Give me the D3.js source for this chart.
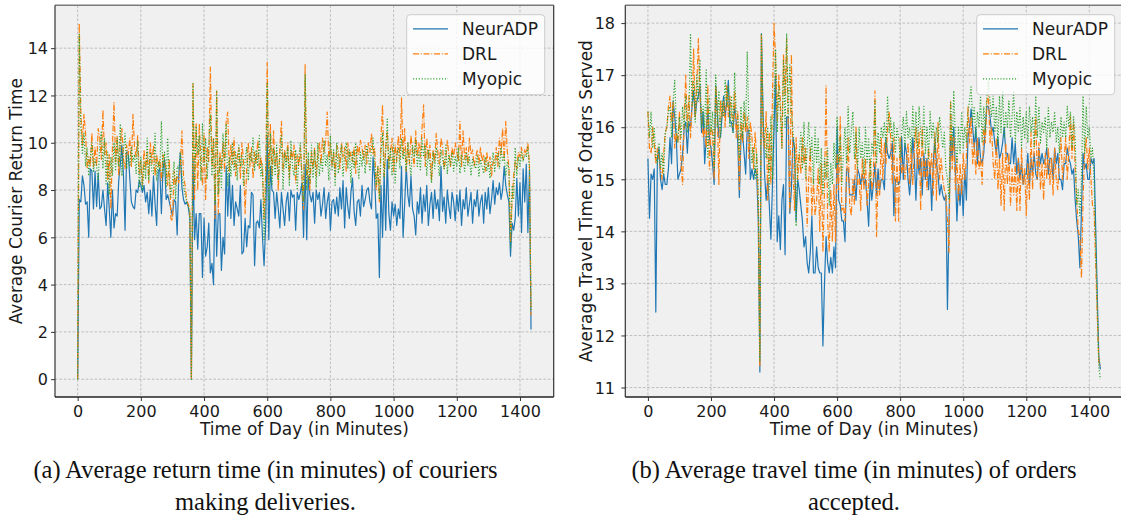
<!DOCTYPE html>
<html>
<head>
<meta charset="utf-8">
<script src="https://cdn.jsdelivr.net/npm/d3@7/dist/d3.min.js"></script>
<style>
  html, body { margin: 0; padding: 0; background: #ffffff; }
  svg { display: block; }
</style>
</head>
<body>
<svg id="chart" width="1121" height="521"></svg>
<script>
// ---------------- DATA (one value every 5 minutes, 0 .. 1435) ----------------
const stepMinutes = 5;
const seriesNames = ["NeurADP", "DRL", "Myopic"];
const xTicks = [0, 200, 400, 600, 800, 1000, 1200, 1400];
const yTicksA = [0, 2, 4, 6, 8, 10, 12, 14];
const yTicksB = [11, 12, 13, 14, 15, 16, 17, 18];
const xLabel = "Time of Day (in Minutes)";
const yLabelA = "Average Courier Return Time";
const yLabelB = "Average Travel Time of Orders Served";
const captionA = ["(a) Average return time (in minutes) of couriers", "making deliveries."];
const captionB = ["(b) Average travel time (in minutes) of orders", "accepted."];

// (a) Average courier return time
const returnNeurADP = [
  0, 7.6, 7.5, 8.6, 8.2, 7.4, 7.5, 6.0, 8.9, 8.8, 7.2, 8.8,
  7.3, 8.7, 7.2, 7.3, 8.0, 7.2, 6.5, 8.3, 7.2, 6.0, 8.0, 6.4,
  7.0, 6.9, 8.4, 9.1, 9.9, 8.6, 6.3, 9.6, 9.6, 8.5, 7.5, 7.3,
  7.2, 8.0, 7.9, 8.4, 8.2, 7.9, 8.2, 7.5, 7.9, 7.0, 8.0, 6.9,
  8.6, 7.4, 6.5, 8.8, 8.9, 7.0, 8.9, 9.3, 7.6, 7.8, 7.5, 7.2,
  6.9, 7.6, 7.5, 6.1, 8.6, 9.6, 8.1, 7.6, 7.4, 7.5, 7.3, 6.8,
  0, 9.3, 5.9, 7.0, 5.5, 7.0, 7.0, 4.3, 6.8, 5.2, 5.6, 6.6,
  4.5, 4.9, 4.0, 8.2, 5.2, 7.0, 7.0, 4.6, 6.0, 5.3, 9.0, 6.9,
  8.7, 6.8, 8.2, 6.5, 7.5, 7.2, 6.9, 8.2, 5.3, 5.4, 6.8, 5.6,
  6.5, 6.4, 7.9, 7.8, 4.8, 6.6, 6.7, 6.4, 7.6, 6.0, 4.8, 6.5,
  10.3, 5.9, 9.0, 8.0, 7.9, 6.8, 7.9, 7.2, 6.4, 7.9, 7.2, 6.5,
  7.5, 7.9, 6.7, 8.0, 7.7, 7.8, 6.3, 7.9, 7.6, 7.9, 8.3, 6.0,
  9.1, 5.9, 8.6, 7.8, 7.5, 7.9, 6.6, 8.0, 7.6, 7.9, 6.9, 7.4,
  8.1, 6.8, 7.5, 7.9, 6.3, 7.5, 7.6, 7.0, 7.7, 6.9, 8.1, 7.2,
  8.4, 6.4, 8.1, 7.3, 6.8, 7.9, 8.5, 7.1, 6.5, 7.5, 7.6, 6.9,
  8.2, 7.3, 7.6, 8.0, 8.1, 7.5, 7.2, 9.4, 8.5, 6.8, 7.0, 4.3,
  8.2, 6.0, 8.7, 6.3, 9.3, 7.0, 6.3, 7.5, 6.9, 7.4, 6.5, 7.2,
  6.8, 9.0, 6.0, 7.4, 9.0, 7.8, 7.3, 8.6, 7.2, 6.9, 6.1, 7.5,
  7.0, 8.1, 6.6, 7.8, 7.1, 8.2, 6.5, 7.4, 7.9, 6.8, 8.0, 7.2,
  7.6, 6.7, 9.0, 7.1, 7.7, 6.6, 8.0, 7.3, 6.8, 7.9, 7.5, 6.7,
  7.8, 7.1, 8.0, 6.5, 7.6, 7.2, 8.1, 6.9, 7.4, 7.9, 6.6, 7.6,
  7.3, 8.0, 6.9, 7.5, 7.8, 6.6, 7.9, 7.2, 8.1, 7.0, 7.6, 8.4,
  7.4, 8.1, 7.8, 8.3, 7.6, 8.0, 9.0, 8.2, 7.8, 7.5, 5.2, 6.6,
  6.3, 6.8, 8.5, 6.9, 8.3, 6.2, 8.9, 7.5, 9.1, 6.2, 8.8, 2.1
];
const returnDRL = [
  0, 15.06, 11.3, 9.9, 11.2, 10.4, 8.9, 9.4, 9.0, 10.4, 9.0, 9.8,
  9.0, 10.6, 10.2, 9.3, 11.4, 9.5, 10.0, 8.4, 9.5, 7.2, 9.8, 11.7,
  9.2, 10.3, 8.6, 10.0, 10.6, 9.3, 8.9, 9.9, 9.5, 10.2, 9.0, 11.2,
  9.8, 9.4, 10.3, 8.7, 9.2, 8.2, 9.7, 8.9, 9.6, 8.3, 10.0, 9.1,
  9.9, 8.6, 9.5, 9.0, 9.3, 8.4, 9.5, 9.2, 8.9, 8.2, 9.3, 6.8,
  6.7, 8.8, 8.2, 8.6, 8.3, 9.0, 10.5, 8.6, 8.2, 7.6, 7.4, 7.2,
  0, 12.5, 7.6, 10.8, 8.0, 10.8, 9.2, 8.2, 10.4, 7.6, 9.8, 9.2,
  13.2, 9.0, 10.2, 6.8, 12.2, 7.0, 9.6, 8.9, 10.0, 8.8, 10.9, 11.3,
  8.8, 9.9, 9.1, 10.2, 8.6, 9.4, 9.8, 8.5, 10.0, 9.2, 7.0, 8.9,
  10.0, 9.0, 9.8, 8.5, 9.6, 9.1, 10.1, 8.9, 9.4, 8.8, 6.8, 8.6,
  13.4, 8.2, 10.8, 8.6, 10.5, 9.0, 9.6, 8.0, 9.8, 10.9, 8.8, 9.7,
  9.2, 10.0, 8.5, 9.7, 9.3, 9.9, 8.3, 9.5, 9.0, 9.8, 8.6, 7.2,
  13.3, 8.3, 9.3, 8.0, 9.6, 8.9, 9.8, 8.6, 9.4, 10.0, 9.1, 10.2,
  9.6, 10.1, 11.3, 9.3, 10.0, 9.0, 9.6, 8.6, 9.9, 9.7, 8.9, 10.0,
  9.4, 9.8, 8.8, 10.0, 9.3, 9.6, 9.2, 9.8, 8.7, 9.9, 9.5, 10.1,
  9.8, 9.3, 9.9, 9.1, 10.0, 9.6, 10.4, 9.5, 9.8, 8.0, 9.0, 7.5,
  10.2, 11.6, 8.6, 9.8, 10.5, 8.9, 9.6, 10.2, 8.8, 9.9, 9.2, 10.3,
  9.3, 11.9, 9.4, 10.6, 8.8, 10.0, 9.1, 10.3, 9.6, 9.0, 10.5, 9.4,
  10.0, 9.4, 10.6, 11.6, 9.0, 10.2, 9.3, 9.9, 8.4, 9.7, 9.2, 10.4,
  9.6, 9.1, 10.2, 9.8, 8.9, 9.3, 10.1, 9.5, 9.0, 9.8, 9.4, 10.0,
  9.6, 9.2, 10.9, 9.0, 10.5, 9.3, 9.8, 9.1, 10.2, 9.5, 9.7, 9.0,
  9.4, 9.7, 9.1, 9.8, 9.2, 9.5, 8.8, 9.6, 9.0, 9.4, 8.6, 9.2,
  9.1, 9.8, 9.0, 10.2, 9.5, 10.6, 9.3, 10.9, 9.6, 9.0, 5.8, 7.5,
  8.6, 9.2, 8.9, 9.6, 9.4, 9.8, 9.3, 9.7, 9.5, 10.0, 9.1, 2.7
];
const returnMyopic = [
  0, 14.6, 10.6, 9.5, 10.4, 9.0, 9.8, 8.6, 9.4, 10.0, 8.8, 9.3,
  9.0, 8.4, 9.9, 10.5, 8.9, 10.2, 8.2, 9.6, 7.8, 9.4, 8.6, 10.0,
  8.8, 10.2, 9.0, 10.8, 8.6, 9.7, 10.4, 8.9, 9.5, 9.0, 9.8, 9.2,
  9.5, 8.7, 10.1, 8.1, 9.4, 8.0, 9.2, 8.5, 10.2, 8.4, 9.6, 8.8,
  8.7, 10.4, 8.4, 9.2, 8.8, 10.9, 8.6, 9.6, 8.1, 10.2, 8.5, 7.7,
  8.4, 9.2, 7.6, 9.0, 8.9, 9.6, 8.6, 8.2, 7.8, 7.5, 7.3, 7.0,
  0, 12.5, 8.2, 10.7, 9.5, 10.3, 8.4, 10.8, 9.0, 10.2, 8.5, 9.8,
  11.2, 8.6, 10.2, 7.4, 12.2, 7.8, 9.4, 8.1, 10.4, 9.2, 10.8, 8.2,
  9.4, 8.6, 10.0, 8.8, 9.6, 8.4, 9.9, 9.0, 9.5, 8.2, 9.3, 9.8,
  8.4, 9.6, 9.2, 10.2, 8.8, 9.7, 9.0, 10.3, 8.6, 9.1, 5.9, 8.0,
  12.5, 7.6, 10.4, 8.2, 9.8, 8.6, 9.9, 8.4, 9.5, 10.3, 8.0, 9.6,
  8.9, 9.8, 8.2, 10.1, 9.0, 8.6, 9.7, 8.0, 9.4, 10.0, 8.4, 7.5,
  12.9, 8.0, 9.6, 8.3, 9.9, 8.5, 9.7, 8.1, 10.0, 8.6, 9.3, 8.8,
  10.1, 9.0, 9.5, 8.4, 10.3, 8.8, 9.7, 8.2, 10.0, 8.7, 9.4, 9.9,
  8.6, 9.5, 10.0, 8.9, 9.7, 8.3, 9.6, 8.9, 10.0, 9.2, 8.5, 9.6,
  9.0, 9.7, 8.7, 9.9, 9.4, 8.8, 9.8, 10.2, 9.1, 8.2, 9.0, 7.6,
  9.5, 10.4, 8.5, 9.6, 11.0, 8.9, 9.8, 8.6, 9.9, 8.3, 9.5, 9.8,
  8.9, 10.2, 9.3, 9.7, 8.8, 10.0, 9.2, 8.6, 9.9, 9.4, 10.1, 9.0,
  9.6, 8.8, 10.2, 9.4, 9.9, 8.6, 9.7, 9.1, 8.3, 9.6, 8.9, 9.8,
  9.2, 8.6, 9.7, 9.3, 8.9, 9.9, 8.7, 9.5, 9.0, 9.6, 8.8, 9.4,
  9.0, 9.8, 8.7, 9.5, 9.3, 8.8, 9.6, 9.0, 9.4, 8.6, 9.3, 9.1,
  8.9, 9.5, 8.6, 9.3, 9.0, 8.7, 9.4, 8.8, 9.2, 8.5, 9.1, 9.6,
  8.8, 9.3, 9.6, 8.9, 9.8, 9.2, 9.5, 8.6, 9.2, 8.9, 5.5, 8.2,
  7.6, 9.8, 8.6, 9.4, 9.0, 9.6, 9.2, 9.5, 9.4, 9.8, 8.9, 2.9
];

// (b) Average travel time of orders served
const travelNeurADP = [
  15.4, 14.25, 15.1, 15.0, 15.2, 12.45, 15.4, 15.6, 15.0, 14.8, 15.1, 14.9,
  14.9, 15.2, 15.8, 15.3, 16.5, 16.2, 15.8, 15.0, 15.1, 15.2, 15.5, 16.0,
  16.1, 15.5, 16.1, 16.0, 16.4, 16.7, 16.2, 16.5, 16.6, 16.8, 15.9, 16.3,
  15.3, 15.8, 16.4, 15.8, 15.6, 15.3, 14.9, 16.8, 16.3, 15.8, 15.8, 16.2,
  16.6, 16.2, 16.5, 16.9, 16.1, 16.1, 15.9, 16.4, 16.1, 15.7, 14.65, 15.8,
  15.9, 15.5, 15.1, 16.0, 15.9, 15.0, 15.2, 15.0, 15.2, 15.1, 14.2, 11.3,
  17.8, 16.3, 15.1, 14.6, 15.0, 14.5, 13.85, 14.9, 16.0, 17.0, 13.8, 14.3,
  13.65, 14.6, 14.9, 13.55, 16.2, 16.2, 14.35, 14.8, 15.8, 15.6, 14.2, 15.0,
  14.8, 14.5, 14.2, 13.7, 13.9, 13.4, 13.2, 13.6, 14.3, 13.2, 13.2, 13.7,
  13.3, 13.2, 13.2, 11.8, 13.0, 13.9, 13.4, 13.2, 13.5, 13.2, 13.7, 13.3,
  16.0, 14.6, 14.5, 14.2, 14.2, 13.8, 15.2, 15.2, 14.7, 14.7, 14.7, 15.0,
  14.6, 15.2, 15.1, 14.9, 15.1, 14.9, 15.0, 14.6, 14.1, 15.0, 14.6, 14.9,
  15.3, 14.7, 15.2, 14.8, 15.0, 15.0, 14.8, 15.8, 15.5, 15.4, 15.5, 15.7,
  14.3, 15.0, 15.0, 14.9, 15.0, 15.8, 15.0, 15.7, 15.5, 15.0, 14.7, 15.1,
  15.8, 15.4, 14.6, 15.5, 15.1, 15.4, 14.7, 15.5, 15.0, 15.4, 14.8, 15.3,
  14.4, 15.3, 15.8, 15.3, 15.1, 14.7, 14.9, 14.7, 14.6, 14.7, 12.5, 14.2,
  15.8, 15.4, 16.0, 15.2, 14.2, 14.9, 14.5, 15.0, 14.3, 15.2, 14.6, 15.8,
  16.0, 16.35, 16.0, 15.6, 16.0, 15.3, 15.8, 15.4, 15.3, 15.5, 16.0, 16.4,
  16.4, 16.2, 15.9, 16.0, 15.7, 15.5, 15.8, 15.4, 15.5, 15.7, 16.0, 15.5,
  15.5, 15.3, 15.3, 15.8, 15.3, 15.7, 15.1, 15.4, 15.0, 15.3, 14.9, 15.1,
  15.1, 15.5, 14.9, 15.4, 15.1, 15.5, 15.1, 15.0, 15.6, 15.3, 15.5, 15.3,
  15.4, 15.6, 15.1, 15.4, 15.4, 15.0, 15.6, 15.3, 15.5, 15.0, 15.0, 14.8,
  15.3, 15.3, 15.6, 15.4, 15.3, 15.1, 15.2, 14.6, 14.2, 13.9, 13.3, 14.4,
  15.5, 15.2, 15.3, 15.0, 15.0, 15.4, 15.3, 15.4, 14.1, 12.8, 11.6, 11.35
];
const travelDRL = [
  16.3, 15.6, 15.5, 16.0, 15.7, 15.3, 15.6, 15.4, 15.2, 15.0, 15.5, 15.9,
  16.0, 16.4, 16.6, 16.1, 16.5, 15.6, 15.9, 15.7, 16.3, 15.3, 14.9, 16.2,
  17.0, 16.0, 16.6, 15.8, 16.4, 17.5, 16.2, 16.8, 17.7, 16.6, 16.2, 15.8,
  16.0, 15.6, 16.8, 15.2, 16.0, 15.9, 15.0, 16.8, 16.3, 14.9, 16.5, 16.2,
  16.5, 16.0, 16.8, 16.2, 16.6, 16.3, 16.0, 16.7, 15.8, 16.3, 14.8, 16.1,
  15.7, 16.3, 15.9, 16.2, 15.4, 16.1, 15.8, 15.2, 15.9, 15.4, 14.5, 11.4,
  17.8, 15.8, 15.6, 16.3, 14.6, 15.9, 14.9, 16.6, 18.0, 17.3, 16.1, 17.0,
  16.5, 15.6, 17.4, 16.6, 17.7, 16.0, 14.4, 17.4, 15.2, 14.4, 15.8, 15.0,
  15.5, 15.1, 15.8, 15.3, 15.6, 14.1, 15.0, 15.6, 14.3, 15.0, 14.3, 14.6,
  15.2, 14.0, 15.3, 13.6, 14.8, 16.8, 14.2, 13.6, 14.8, 13.8, 14.9, 13.8,
  15.5, 14.8, 16.2, 14.4, 14.5, 14.2, 15.0, 15.8, 14.5, 14.3, 15.0, 14.5,
  16.0, 14.9, 15.0, 14.4, 15.4, 14.8, 15.4, 14.5, 14.9, 15.4, 14.8, 15.0,
  16.7, 13.9, 15.0, 14.7, 15.8, 15.0, 15.7, 15.3, 16.0, 16.3, 15.8, 14.9,
  15.8, 14.2, 15.4, 14.2, 15.8, 15.1, 15.3, 15.0, 15.3, 15.7, 14.9, 15.6,
  14.9, 15.6, 16.0, 15.2, 15.9, 14.4, 16.0, 15.0, 15.4, 14.8, 15.6, 15.1,
  15.5, 14.7, 15.9, 14.6, 16.1, 15.0, 15.4, 15.0, 14.8, 14.7, 14.2, 13.6,
  16.5, 15.2, 15.8, 14.8, 15.4, 14.6, 15.3, 14.7, 15.5, 15.0, 15.4, 16.4,
  15.7, 16.2, 15.3, 15.7, 15.1, 15.8, 15.2, 15.4, 14.9, 16.0, 15.7, 16.5,
  16.6, 15.7, 16.0, 15.3, 15.0, 15.8, 14.8, 15.4, 14.5, 15.5, 14.4, 15.7,
  14.9, 15.5, 14.5, 15.2, 14.7, 15.3, 14.4, 15.4, 14.4, 15.6, 14.9, 15.2,
  14.3, 15.3, 14.6, 15.9, 14.8, 15.6, 16.2, 15.0, 15.7, 14.8, 15.3, 14.6,
  15.5, 15.0, 15.6, 14.9, 15.4, 14.7, 15.6, 15.0, 14.8, 15.4, 15.8, 15.0,
  15.4, 15.8, 15.0, 15.5, 16.2, 15.4, 16.1, 15.2, 14.6, 14.0, 13.9, 13.1,
  14.6, 15.5, 15.8, 15.2, 15.6, 15.0, 14.5, 14.4, 13.4, 12.4, 11.5, 11.4
];
const travelMyopic = [
  16.3, 15.8, 16.3, 15.6, 16.0, 15.4, 15.3, 15.7, 15.2, 15.5, 15.1, 15.9,
  16.0, 16.3, 16.4, 15.8, 16.5, 16.9, 16.0, 15.7, 16.2, 15.8, 16.4, 16.0,
  16.6, 15.9, 16.2, 17.8, 16.4, 16.9, 16.1, 17.0, 16.5, 17.3, 16.0, 16.4,
  16.0, 17.1, 15.4, 16.6, 15.9, 16.3, 15.2, 17.0, 16.0, 16.7, 15.8, 16.5,
  16.2, 16.9, 16.4, 16.8, 16.0, 16.6, 15.9, 17.05, 16.3, 16.2, 15.4, 16.4,
  15.8, 16.5, 16.0, 17.45, 16.1, 15.7, 15.3, 15.6, 15.0, 15.5, 14.8, 11.5,
  17.8, 16.2, 15.7, 15.4, 16.0, 14.8, 16.2, 15.0, 16.4, 17.5, 15.9, 16.8,
  16.3, 15.6, 17.3, 16.0, 17.8, 16.2, 17.2, 16.3, 15.9, 15.6, 14.1, 15.3,
  15.5, 15.9, 15.2, 16.1, 15.0, 15.6, 16.1, 15.4, 15.8, 14.9, 16.0, 15.3,
  15.8, 14.9, 15.6, 14.7, 15.4, 15.0, 15.6, 14.5, 15.3, 14.9, 15.7, 15.2,
  16.2, 15.3, 15.8, 14.9, 15.5, 16.0, 15.3, 16.4, 15.5, 15.9, 16.3, 15.4,
  15.9, 15.2, 16.0, 15.4, 15.7, 15.1, 16.0, 15.3, 15.8, 15.0, 15.7, 15.5,
  16.5, 15.3, 15.9, 15.5, 16.0, 15.8, 16.1, 15.6, 16.6, 15.9, 16.2, 15.7,
  16.1, 15.5, 16.0, 15.8, 15.4, 15.9, 16.2, 15.6, 16.3, 15.8, 16.0, 15.5,
  16.4, 15.7, 16.3, 15.6, 16.4, 15.9, 15.6, 16.4, 15.5, 16.0, 15.4, 16.3,
  15.8, 16.1, 15.5, 16.0, 15.7, 16.2, 15.9, 15.6, 15.9, 15.2, 15.0, 14.6,
  16.5, 15.6, 16.7, 15.8, 15.3, 16.0, 15.5, 16.3, 15.6, 16.0, 15.7, 16.3,
  16.5, 16.8, 16.1, 16.4, 15.8, 16.3, 16.0, 16.6, 15.7, 16.4, 15.9, 16.6,
  16.9, 16.5, 16.2, 16.6, 15.9, 16.4, 15.7, 16.6, 15.9, 16.7, 15.8, 16.3,
  16.0, 16.5, 15.8, 16.2, 16.7, 15.7, 16.3, 15.9, 16.4, 15.6, 16.2, 15.8,
  16.3, 15.7, 16.4, 15.9, 16.2, 15.6, 16.6, 15.8, 16.4, 15.7, 16.1, 15.9,
  16.2, 15.6, 16.4, 15.8, 16.1, 15.9, 16.3, 15.7, 16.0, 15.5, 16.2, 15.8,
  16.1, 15.8, 16.4, 16.0, 16.3, 15.6, 16.2, 15.8, 14.5, 14.8, 14.3, 15.0,
  16.6, 15.5, 16.4, 15.8, 16.0, 15.4, 15.6, 15.0, 13.8, 12.6, 11.4, 11.16
];

// ---------------- STYLE ----------------
const colors = ["#1f77b4", "#ff7f0e", "#2ca02c"];
const dashes = [null, "6,1.7,1.1,1.7", "1.1,1.8"];
const FONT = "'DejaVu Sans', sans-serif";

const panels = [
  { left: 55, right: 553.7, top: 5.3, bottom: 397, series: [returnNeurADP, returnDRL, returnMyopic],
    yTicks: yTicksA, yLabel: yLabelA, yLabelX: 22, tickLabelX: 48,
    legend: { x: 406.7, y: 14.7 }, caption: captionA, captionX: 265.5 },
  { left: 625.3, right: 1123, top: 5.3, bottom: 397, series: [travelNeurADP, travelDRL, travelMyopic],
    yTicks: yTicksB, yLabel: yLabelB, yLabelX: 592, tickLabelX: 615,
    legend: { x: 976.7, y: 14.7 }, caption: captionB, captionX: 854 }
];

const svg = d3.select("#chart");
svg.append("rect").attr("width", 1121).attr("height", 521).attr("fill", "#ffffff");

panels.forEach((p, pi) => {
  const n = p.series[0].length;
  const times = d3.range(n).map(i => i * stepMinutes);
  const xMin = 0, xMax = times[n - 1];
  const xPad = (xMax - xMin) * 0.05;
  const allVals = p.series.flat();
  const yMin = d3.min(allVals), yMax = d3.max(allVals);
  const yPad = (yMax - yMin) * 0.05;

  const x = d3.scaleLinear().domain([xMin - xPad, xMax + xPad]).range([p.left, p.right]);
  const y = d3.scaleLinear().domain([yMin - yPad, yMax + yPad]).range([p.bottom, p.top]);

  const g = svg.append("g");
  const clipId = "clip" + pi;
  g.append("clipPath").attr("id", clipId).append("rect")
    .attr("x", p.left).attr("y", p.top).attr("width", p.right - p.left).attr("height", p.bottom - p.top);

  // background
  g.append("rect").attr("x", p.left).attr("y", p.top)
    .attr("width", p.right - p.left).attr("height", p.bottom - p.top).attr("fill", "#f0f0f0");

  // grid
  const grid = g.append("g").attr("clip-path", `url(#${clipId})`);
  grid.selectAll(".gx").data(xTicks).join("line")
    .attr("x1", d => x(d)).attr("x2", d => x(d)).attr("y1", p.top).attr("y2", p.bottom)
    .attr("stroke", "#b0b0b0").attr("stroke-width", 0.8).attr("stroke-dasharray", "2.6,1.8");
  grid.selectAll(".gy").data(p.yTicks).join("line")
    .attr("x1", p.left).attr("x2", p.right).attr("y1", d => y(d)).attr("y2", d => y(d))
    .attr("stroke", "#b0b0b0").attr("stroke-width", 0.8).attr("stroke-dasharray", "2.6,1.8");

  // lines
  const lines = g.append("g").attr("clip-path", `url(#${clipId})`);
  p.series.forEach((vals, si) => {
    const line = d3.line().x((d, i) => x(times[i])).y(d => y(d));
    const path = lines.append("path").datum(vals)
      .attr("d", line).attr("fill", "none")
      .attr("stroke", colors[si]).attr("stroke-width", 1.2)
      .attr("stroke-linejoin", "round");
    if (dashes[si]) path.attr("stroke-dasharray", dashes[si]);
  });

  // spines
  g.append("line").attr("x1", p.left).attr("x2", p.right).attr("y1", p.top).attr("y2", p.top)
    .attr("stroke", "#7a7a7a").attr("stroke-width", 1.6);
  g.append("line").attr("x1", p.right).attr("x2", p.right).attr("y1", p.top).attr("y2", p.bottom)
    .attr("stroke", "#333").attr("stroke-width", 1.2);
  g.append("line").attr("x1", p.left).attr("x2", p.left).attr("y1", p.top).attr("y2", p.bottom)
    .attr("stroke", "#333").attr("stroke-width", 1.2);
  g.append("line").attr("x1", p.left).attr("x2", p.right).attr("y1", p.bottom).attr("y2", p.bottom)
    .attr("stroke", "#222").attr("stroke-width", 1.4);

  // axes (d3 axes, restyled)
  const xAxis = d3.axisBottom(x).tickValues(xTicks).tickSize(4).tickPadding(2).tickFormat(d3.format("d"));
  const gx = g.append("g").attr("transform", `translate(0,${p.bottom})`).call(xAxis);
  gx.select(".domain").remove();
  gx.selectAll(".tick line").attr("stroke", "#333").attr("stroke-width", 1);
  gx.selectAll(".tick text").attr("font-family", FONT).attr("font-size", 16).attr("fill", "#1a1a1a")
    .attr("dy", null).attr("y", 19.5).attr("dominant-baseline", "auto");

  const yAxis = d3.axisLeft(y).tickValues(p.yTicks).tickSize(4).tickPadding(3).tickFormat(d3.format("d"));
  const gy = g.append("g").attr("transform", `translate(${p.left},0)`).call(yAxis);
  gy.select(".domain").remove();
  gy.selectAll(".tick line").attr("stroke", "#333").attr("stroke-width", 1);
  gy.selectAll(".tick text").attr("font-family", FONT).attr("font-size", 16).attr("fill", "#1a1a1a")
    .attr("x", p.tickLabelX - p.left).attr("dy", "0.36em");

  // axis labels
  g.append("text").attr("x", (p.left + p.right) / 2).attr("y", 435)
    .attr("text-anchor", "middle").attr("font-family", FONT).attr("font-size", 17).attr("fill", "#1a1a1a")
    .text(xLabel);
  g.append("text").attr("transform", `translate(${p.yLabelX},${(p.top + p.bottom) / 2}) rotate(-90)`)
    .attr("text-anchor", "middle").attr("font-family", FONT).attr("font-size", 17).attr("fill", "#1a1a1a")
    .text(p.yLabel);

  // legend
  const lg = g.append("g").attr("transform", `translate(${p.legend.x},${p.legend.y})`);
  lg.append("rect").attr("width", 138).attr("height", 80).attr("rx", 3.5)
    .attr("fill", "#ffffff").attr("fill-opacity", 0.8).attr("stroke", "#cccccc").attr("stroke-width", 1);
  seriesNames.forEach((name, si) => {
    const cy = 14.2 + si * 25;
    const l = lg.append("line").attr("x1", 6.3).attr("x2", 41.3).attr("y1", cy).attr("y2", cy)
      .attr("stroke", colors[si]).attr("stroke-width", 1.2);
    if (dashes[si]) l.attr("stroke-dasharray", dashes[si]);
    lg.append("text").attr("x", 55.3).attr("y", cy).attr("dy", "0.36em")
      .attr("font-family", FONT).attr("font-size", 17).attr("fill", "#1a1a1a").text(name);
  });

  // caption
  p.caption.forEach((txt, li) => {
    svg.append("text").attr("x", p.captionX).attr("y", 478 + li * 32)
      .attr("text-anchor", "middle").attr("font-family", "'Liberation Serif', 'Times New Roman', serif")
      .attr("font-size", 24.5).attr("fill", "#111").text(txt);
  });
});
</script>
</body>
</html>
